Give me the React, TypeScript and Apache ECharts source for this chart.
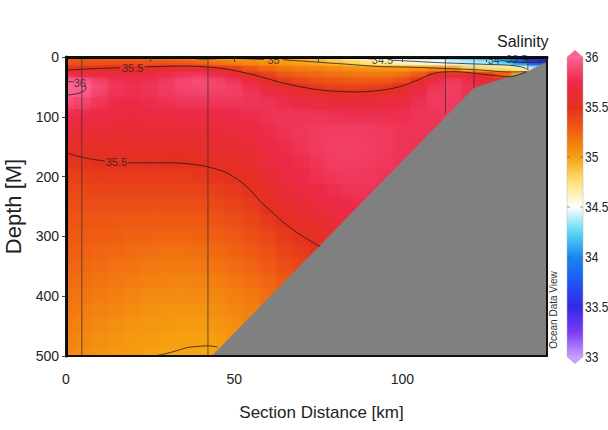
import React, { useEffect, useRef } from "react";
import * as echarts from "echarts";

const FONT = "'Liberation Sans', Arial, sans-serif";
const X_MAX = 143;
const D_MAX = 500;

// Section grid
const distances = [0, 5, 10, 15, 20, 25, 30, 35, 40, 45, 50, 55, 60, 65, 70, 75, 80, 85, 90, 95, 100, 105, 110, 115, 120, 125, 130, 135, 140];
const depths = [0, 10, 20, 30, 40, 50, 60, 75, 100, 125, 150, 175, 200, 225, 250, 275, 300, 325, 350, 375, 400, 425, 450, 475, 500];

// salinity per station column (top -> down to just below seabed)
const salinityByStation: number[][] = [
  [35.25, 35.32, 35.47, 35.78, 36.01, 36.04, 36.01, 35.9, 35.76, 35.66, 35.56, 35.47, 35.42, 35.38, 35.35, 35.32, 35.3, 35.27, 35.24, 35.21, 35.18, 35.16, 35.14, 35.12, 35.1],
  [35.24, 35.32, 35.49, 35.74, 35.96, 36.01, 35.97, 35.86, 35.74, 35.65, 35.56, 35.48, 35.43, 35.38, 35.35, 35.32, 35.29, 35.26, 35.23, 35.2, 35.17, 35.14, 35.12, 35.1, 35.08],
  [35.22, 35.33, 35.52, 35.72, 35.85, 35.89, 35.86, 35.8, 35.72, 35.64, 35.57, 35.5, 35.44, 35.39, 35.35, 35.31, 35.28, 35.24, 35.21, 35.18, 35.15, 35.12, 35.1, 35.07, 35.05],
  [35.2, 35.34, 35.54, 35.7, 35.78, 35.8, 35.79, 35.75, 35.7, 35.63, 35.57, 35.51, 35.45, 35.39, 35.34, 35.3, 35.27, 35.23, 35.19, 35.16, 35.13, 35.1, 35.07, 35.05, 35.03],
  [35.18, 35.34, 35.56, 35.7, 35.76, 35.78, 35.77, 35.74, 35.69, 35.63, 35.57, 35.51, 35.45, 35.39, 35.34, 35.29, 35.25, 35.21, 35.18, 35.14, 35.11, 35.08, 35.05, 35.03, 35.02],
  [35.16, 35.33, 35.58, 35.72, 35.78, 35.8, 35.79, 35.76, 35.7, 35.64, 35.57, 35.51, 35.45, 35.39, 35.34, 35.29, 35.25, 35.2, 35.16, 35.13, 35.09, 35.06, 35.04, 35.02, 35.0],
  [35.12, 35.32, 35.6, 35.76, 35.82, 35.83, 35.82, 35.78, 35.71, 35.64, 35.57, 35.5, 35.45, 35.39, 35.34, 35.29, 35.24, 35.19, 35.15, 35.12, 35.08, 35.05, 35.03, 35.01, 34.99],
  [35.06, 35.3, 35.62, 35.8, 35.87, 35.87, 35.85, 35.8, 35.72, 35.65, 35.57, 35.5, 35.45, 35.39, 35.34, 35.29, 35.24, 35.19, 35.15, 35.11, 35.08, 35.05, 35.02, 35.0, 34.98],
  [34.98, 35.25, 35.6, 35.82, 35.9, 35.89, 35.86, 35.8, 35.72, 35.65, 35.58, 35.51, 35.46, 35.4, 35.35, 35.3, 35.25, 35.2, 35.16, 35.12, 35.08, 35.05, 35.02, 35.0, 34.98],
  [34.97, 35.18, 35.52, 35.76, 35.86, 35.87, 35.85, 35.8, 35.73, 35.66, 35.6, 35.54, 35.48, 35.42, 35.37, 35.32, 35.27, 35.22, 35.18, 35.14, 35.1, 35.07, 35.04, 35.01, 35.0],
  [34.99, 35.12, 35.44, 35.66, 35.8, 35.84, 35.84, 35.8, 35.74, 35.68, 35.62, 35.56, 35.51, 35.45, 35.4, 35.35, 35.3, 35.25, 35.21, 35.17, 35.13, 35.1, 35.07, 35.06],
  [35.0, 35.08, 35.32, 35.52, 35.68, 35.77, 35.8, 35.8, 35.76, 35.71, 35.66, 35.6, 35.55, 35.49, 35.44, 35.39, 35.34, 35.29, 35.24, 35.2, 35.16, 35.13, 35.12],
  [34.98, 35.05, 35.24, 35.42, 35.56, 35.68, 35.75, 35.79, 35.79, 35.76, 35.72, 35.68, 35.63, 35.57, 35.51, 35.45, 35.39, 35.34, 35.29, 35.24, 35.2, 35.18],
  [34.93, 35.02, 35.17, 35.32, 35.45, 35.58, 35.68, 35.76, 35.8, 35.79, 35.76, 35.73, 35.69, 35.64, 35.58, 35.51, 35.45, 35.4, 35.35, 35.3, 35.27],
  [34.88, 34.98, 35.14, 35.27, 35.39, 35.51, 35.62, 35.73, 35.8, 35.81, 35.8, 35.77, 35.74, 35.69, 35.63, 35.57, 35.5, 35.44, 35.4],
  [34.8, 34.94, 35.12, 35.23, 35.34, 35.45, 35.56, 35.7, 35.8, 35.83, 35.83, 35.81, 35.78, 35.74, 35.68, 35.62, 35.55, 35.5],
  [34.7, 34.88, 35.1, 35.2, 35.31, 35.42, 35.53, 35.67, 35.79, 35.84, 35.85, 35.84, 35.81, 35.77, 35.72, 35.66, 35.62],
  [34.58, 34.82, 35.07, 35.18, 35.29, 35.4, 35.52, 35.66, 35.78, 35.84, 35.85, 35.84, 35.82, 35.79, 35.75, 35.72],
  [34.48, 34.74, 35.05, 35.17, 35.29, 35.41, 35.53, 35.67, 35.78, 35.83, 35.84, 35.83, 35.81, 35.79, 35.77],
  [34.42, 34.68, 35.04, 35.17, 35.3, 35.44, 35.56, 35.69, 35.78, 35.82, 35.82, 35.81, 35.8, 35.79],
  [34.38, 34.62, 35.03, 35.2, 35.36, 35.52, 35.62, 35.72, 35.78, 35.8, 35.8, 35.79, 35.79],
  [34.34, 34.58, 35.06, 35.3, 35.52, 35.66, 35.73, 35.78, 35.8, 35.79, 35.78],
  [34.28, 34.52, 35.1, 35.55, 35.75, 35.8, 35.82, 35.82, 35.8, 35.8],
  [34.2, 34.44, 35.08, 35.62, 35.82, 35.84, 35.83, 35.82, 35.82],
  [34.1, 34.4, 34.86, 35.58, 35.75, 35.78, 35.78, 35.78],
  [33.98, 34.36, 34.82, 35.5, 35.65, 35.65],
  [33.75, 34.25, 34.78, 35.3, 35.5],
  [33.45, 34.0, 34.7, 35.0],
  [33.25, 33.7, 34.4],
];

// Seabed profile
const seabedDistance = [43.4, 121.3, 137.7, 143, 143];
const seabedDepth = [500, 52, 23, 8, 500];

// CTD station casts
const stationDistance = [4.7, 42.2, 112.8, 121.3, 137.3];
const stationBottom = [500, 500, 95, 52, 22];

// Contour lines (distance km, depth m), split where labels sit
const c355UpperA = [[0, 22], [8, 19.5], [16, 18]];
const c355UpperB = [[23.5, 16.5], [30, 15.5], [36, 15], [42.7, 17], [48, 20.5], [53.7, 27], [58.5, 34], [63.5, 42], [69, 49], [75.4, 55], [81, 57.5], [86.4, 58.5], [93, 56], [99, 50], [104, 40], [108, 30], [112, 25], [116, 24.5], [121, 27], [126, 30], [131.8, 33], [136.8, 25]];
const c355LowerA = [[0, 160], [5, 168], [11.5, 174]];
const c355LowerB = [[18.5, 177], [25, 177], [31.8, 177], [39.8, 181], [43.7, 186], [47.9, 194], [53.8, 217], [57.5, 240], [61.5, 261], [64.5, 276], [67.5, 289], [71, 302], [74.6, 314], [75.6, 317]];
const c36A = [[0, 41], [2.4, 41.5]];
const c36B = [[5.6, 47], [5.9, 52], [5.3, 57], [3.5, 61], [1.5, 63], [0, 64]];
const c35UpperA = [[36, 0], [40, 3.5], [44, 3], [48, 2], [52, 2.5], [56, 3.5], [58.9, 4]];
const c35UpperB = [[64.5, 4.5], [68, 6], [73.4, 8], [78, 10], [83.5, 12], [88, 14], [93.3, 16], [98, 16.5], [102, 17], [107, 18], [112, 19], [116, 20], [121, 21], [125, 22.5], [129, 24.5], [133, 25], [137, 24.5]];
const c345A = [[83, 0], [87, 1.5], [91.3, 3.5]];
const c345B = [[96.9, 5.5], [101, 6.5], [106, 8], [111, 9.5], [116, 10.5], [121, 11.5], [126, 12.5], [131, 13.5], [135, 16], [137.5, 21]];
const c34A = [[124, 0], [125.3, 2.5]];
const c34B = [[129, 5.5], [131, 7], [134, 8.5], [137, 9], [140, 9], [143, 8]];
const c335A = [[131.5, 0], [132, 1.5]];
const c335B = [[136, 4.5], [139, 5.5], [143, 5]];
const c35Bottom = [[26, 500], [29, 497], [33, 491], [36, 486], [39, 484], [42.2, 483], [45, 485]];
const contourSegments = [c355UpperA, c355UpperB, c355LowerA, c355LowerB, c36A, c36B, c35UpperA, c35UpperB, c345A, c345B, c34A, c34B, c335A, c335B, c35Bottom];

const contourLabelText = ["35.5", "35.5", "36", "35", "34.5", "34", "33.5"];
const contourLabelDistance = [19.8, 15, 4.1, 61.7, 94.1, 127.2, 134];
const contourLabelDepth = [18, 176, 44, 5, 5, 5, 4];

// Colour scale
const scaleMin = 33;
const scaleMax = 36;
const palette = ["#c8a0ff", "#7a3cf2", "#3428ea", "#1e56f0", "#1888f0", "#5cd8f6", "#ffffff", "#ffe27a", "#f6a010", "#f06212", "#e4301e", "#ec2a48", "#fc6292"];
const colorbarTicks = [33, 33.5, 34, 34.5, 35, 35.5, 36];

const xLabelValues = [0, 50, 100];
const xTickValues = [0, 25, 50, 75, 100, 125];

function hexToRgb(h: string) {
  return [parseInt(h.slice(1, 3), 16), parseInt(h.slice(3, 5), 16), parseInt(h.slice(5, 7), 16)];
}
const paletteRgb = palette.map(hexToRgb);
function colorOf(v: number) {
  const t = Math.max(0, Math.min(1, (v - scaleMin) / (scaleMax - scaleMin))) * (palette.length - 1);
  const i = Math.min(palette.length - 2, Math.floor(t));
  const f = t - i;
  const a = paletteRgb[i], b = paletteRgb[i + 1];
  return `rgb(${Math.round(a[0] + (b[0] - a[0]) * f)},${Math.round(a[1] + (b[1] - a[1]) * f)},${Math.round(a[2] + (b[2] - a[2]) * f)})`;
}

export default function App() {
  const ref = useRef<HTMLDivElement>(null);
  useEffect(() => {
    if (!ref.current) return;
    const chart = echarts.init(ref.current, null, { renderer: "svg" });

    const cells: number[][] = [];
    distances.forEach((x, i) => {
      const x0 = i === 0 ? 0 : (distances[i - 1] + x) / 2;
      const x1 = i === distances.length - 1 ? X_MAX : (x + distances[i + 1]) / 2;
      salinityByStation[i].forEach((s, j) => {
        const d = depths[j];
        const d0 = j === 0 ? 0 : (depths[j - 1] + d) / 2;
        const d1 = j === depths.length - 1 ? D_MAX : (d + depths[j + 1]) / 2;
        cells.push([x, d, s, x0, x1, d0, d1, i, j]);
      });
    });

    // colour bar geometry
    const cbX = 567, cbW = 16, cbTop = 57, cbH = 300;
    const cbY = (v: number) => cbTop + ((scaleMax - v) / (scaleMax - scaleMin)) * cbH;
    const stops = palette.map((c, i) => ({ offset: 1 - i / (palette.length - 1), color: c })).reverse();

    const graphics: any[] = [
      { type: "rect", z: 100, silent: true, shape: { x: 66, y: 57, width: 481, height: 299 }, style: { fill: "none", stroke: "#111", lineWidth: 2 } },
      { type: "rect", shape: { x: cbX, y: cbTop, width: cbW, height: cbH }, style: { fill: new echarts.graphic.LinearGradient(0, 0, 0, 1, stops), stroke: "#bbb", lineWidth: 0.5 } },
      { type: "polygon", shape: { points: [[cbX, cbTop], [cbX + cbW / 2, cbTop - 7], [cbX + cbW, cbTop]] }, style: { fill: palette[palette.length - 1] } },
      { type: "polygon", shape: { points: [[cbX, cbTop + cbH], [cbX + cbW / 2, cbTop + cbH + 7], [cbX + cbW, cbTop + cbH]] }, style: { fill: palette[0] } },
      { type: "text", x: 553, y: 310, rotation: Math.PI / 2, style: { text: "Ocean Data View", font: "10px 'Liberation Sans', Arial, sans-serif", fill: "#333", align: "center", verticalAlign: "middle" } },
    ];
    colorbarTicks.forEach((v) => {
      const y = cbY(v);
      graphics.push({ type: "text", x: cbX + cbW + 2, y, scaleX: 0.8, style: { text: String(v), font: `15px ${FONT}`, fill: "#222", align: "left", verticalAlign: "middle" } });
      if (v !== scaleMin && v !== scaleMax) {
        graphics.push({ type: "line", shape: { x1: cbX, y1: y, x2: cbX + 3, y2: y }, style: { stroke: "#555", lineWidth: 1, opacity: 0.6 } });
        graphics.push({ type: "line", shape: { x1: cbX + cbW - 3, y1: y, x2: cbX + cbW, y2: y }, style: { stroke: "#555", lineWidth: 1, opacity: 0.6 } });
      }
    });

    const series: any[] = [
      {
        type: "custom",
        name: "Salinity",
        clip: true,
        z: 1,
        encode: { x: 0, y: 1 },
        data: cells,
        renderItem: (_p: any, api: any) => {
          const a = api.coord([api.value(3), api.value(5)]);
          const b = api.coord([api.value(4), api.value(6)]);
          const i = api.value(7), j = api.value(8);
          const col = salinityByStation[i];
          const s = col[j];
          const up = j > 0 ? (s + col[j - 1]) / 2 : s;
          const dn = j < col.length - 1 ? (s + col[j + 1]) / 2 : s;
          const leftCol = i > 0 ? salinityByStation[i - 1] : null;
          const rightCol = i < salinityByStation.length - 1 ? salinityByStation[i + 1] : null;
          const lv = leftCol && leftCol[j] !== undefined ? (s + leftCol[j]) / 2 : s;
          const rv = rightCol && rightCol[j] !== undefined ? (s + rightCol[j]) / 2 : s;
          const shape = { x: a[0] - 0.3, y: a[1] - 0.3, width: b[0] - a[0] + 0.6, height: b[1] - a[1] + 0.6 };
          const hFill = new echarts.graphic.LinearGradient(0, 0, 1, 0, [
            { offset: 0, color: colorOf(lv) },
            { offset: 0.5, color: colorOf(s) },
            { offset: 1, color: colorOf(rv) },
          ]);
          const vFill = new echarts.graphic.LinearGradient(0, 0, 0, 1, [
            { offset: 0, color: colorOf(up) },
            { offset: 0.5, color: colorOf(s) },
            { offset: 1, color: colorOf(dn) },
          ]);
          return {
            type: "group",
            children: [
              { type: "rect", shape, style: { fill: hFill } },
              { type: "rect", shape, style: { fill: vFill, opacity: 0.55 } },
            ],
          };
        },
      },
      {
        type: "custom",
        name: "Seabed",
        clip: true,
        z: 3,
        encode: { x: 0, y: 1 },
        data: [[seabedDistance[0], seabedDepth[0]]],
        renderItem: (_p: any, api: any) => {
          const pts = seabedDistance.map((x, i) => api.coord([x, seabedDepth[i]]));
          return { type: "polygon", shape: { points: pts }, style: { fill: "#808080", stroke: "#808080", lineWidth: 0.5 } };
        },
      },
    ];
    contourSegments.forEach((seg) => {
      series.push({ type: "line", z: 4, data: seg, smooth: 0.35, symbol: "none", silent: true, lineStyle: { color: "#1a1a1a", width: 0.9, opacity: 0.85 } });
    });
    stationDistance.forEach((x, i) => {
      series.push({ type: "line", z: 4, data: [[x, 0], [x, stationBottom[i]]], symbol: "none", silent: true, lineStyle: { color: "#3a3030", width: 1, opacity: 0.75 } });
    });
    series.push({
      type: "scatter",
      z: 5,
      symbolSize: 1,
      itemStyle: { color: "transparent" },
      silent: true,
      data: contourLabelText.map((t, i) => ({ value: [contourLabelDistance[i], contourLabelDepth[i]], name: t })),
      label: { show: true, position: "inside", formatter: (p: any) => p.name, fontFamily: FONT, fontSize: 11, color: "#222" },
    });

    chart.setOption({
      animation: false,
      backgroundColor: "#ffffff",
      textStyle: { fontFamily: FONT },
      title: { text: "Salinity", left: 492, top: 28, textStyle: { fontFamily: FONT, fontSize: 16, fontWeight: "normal", color: "#222" } },
      grid: { left: 66, top: 57, width: 481, height: 299, containLabel: false, outerBoundsMode: "none" },
      xAxis: {
        type: "value",
        min: 0,
        max: X_MAX,
        z: 10,
        axisLine: { show: true, lineStyle: { color: "#000", width: 3 } },
        axisTick: { show: true, length: 5, customValues: xTickValues, lineStyle: { color: "#444", width: 1 } },
        axisLabel: { customValues: xLabelValues, margin: 16, fontSize: 14, fontFamily: FONT, color: "#222", alignMinLabel: "center" },
        splitLine: { show: false },
        name: "Section Distance [km]",
        nameLocation: "middle",
        nameGap: 48,
        nameTextStyle: { fontFamily: FONT, fontSize: 17, color: "#222", padding: [0, 0, 0, 30] },
      },
      yAxis: {
        type: "value",
        inverse: true,
        min: 0,
        max: D_MAX,
        interval: 100,
        z: 10,
        axisLine: { show: true, lineStyle: { color: "#000", width: 3 } },
        axisTick: { show: true, length: 4, lineStyle: { color: "#444", width: 1 } },
        axisLabel: { margin: 7, fontSize: 14, fontFamily: FONT, color: "#222" },
        splitLine: { show: false },
        name: "Depth [M]",
        nameLocation: "middle",
        nameGap: 37,
        nameRotate: 90,
        nameTextStyle: { fontFamily: FONT, fontSize: 22, color: "#222" },
      },
      graphic: graphics,
      series,
    });
    return () => chart.dispose();
  }, []);
  return <div ref={ref} style={{ position: "absolute", left: 0, top: 0, width: 608, height: 430 }} />;
}
